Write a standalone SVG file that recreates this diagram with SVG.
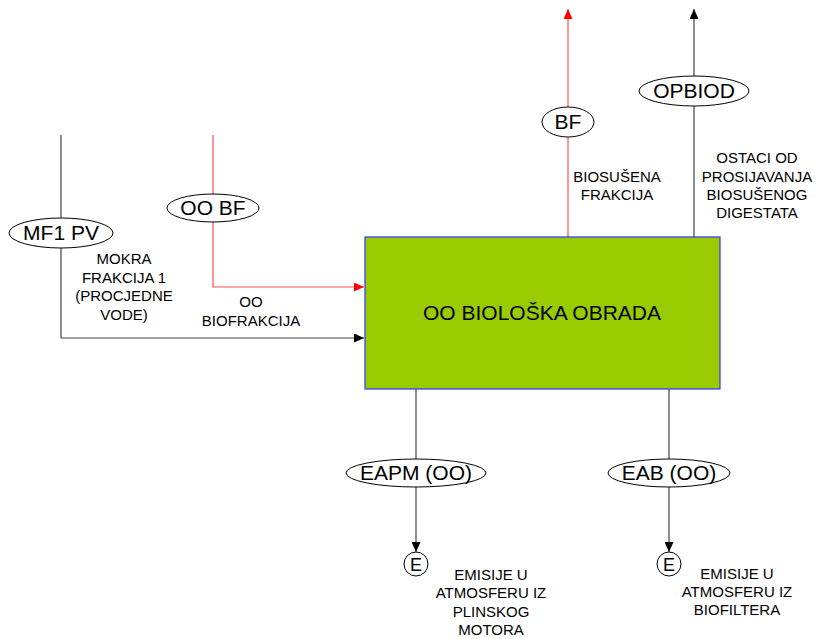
<svg xmlns="http://www.w3.org/2000/svg" width="818" height="639" viewBox="0 0 818 639">
<style>
text{font-family:"Liberation Sans",Arial,sans-serif;fill:#000}
.lbl{font-size:15px;text-anchor:middle}
.el{font-size:21px;text-anchor:middle}
.ell{fill:#fff;stroke:#000;stroke-width:1}
.k{fill:none;stroke:#444;stroke-width:1.2}
.r{fill:none;stroke:#ff5050;stroke-width:1.2}
</style>
<defs>
<marker id="ak" viewBox="0 0 10 10" refX="10" refY="5" markerWidth="10" markerHeight="9" markerUnits="userSpaceOnUse" orient="auto" preserveAspectRatio="none"><path d="M0,0L10,5L0,10z" fill="#000"/></marker>
<marker id="ar" viewBox="0 0 10 10" refX="10" refY="5" markerWidth="10" markerHeight="9" markerUnits="userSpaceOnUse" orient="auto" preserveAspectRatio="none"><path d="M0,0L10,5L0,10z" fill="#ff0000"/></marker>
</defs>
<rect width="818" height="639" fill="#fff"/>
<g id="connectors">
<path class="k" d="M61,135V338H364" marker-end="url(#ak)"/>
<path class="r" d="M213,135V287H364" marker-end="url(#ar)"/>
<path class="r" d="M568,237V9" marker-end="url(#ar)"/>
<path class="k" d="M694,237V9" marker-end="url(#ak)"/>
<path class="k" d="M416,389V552" marker-end="url(#ak)"/>
<path class="k" d="M669,389V552" marker-end="url(#ak)"/>
</g>
<g id="main">
<rect x="365" y="237" width="355" height="152" fill="#99cc00" stroke="#3333ff" stroke-width="1.2"/>
<text x="542" y="320" font-size="21" text-anchor="middle">OO BIOLOŠKA OBRADA</text>
</g>
<g id="mf1pv">
<ellipse class="ell" cx="61" cy="233" rx="52" ry="15"/>
<text class="el" x="61" y="240">MF1 PV</text>
<text class="lbl" x="124" y="264">MOKRA</text>
<text class="lbl" x="124" y="283">FRAKCIJA 1</text>
<text class="lbl" x="124" y="301">(PROCJEDNE</text>
<text class="lbl" x="124" y="320">VODE)</text>
</g>
<g id="oobf">
<ellipse class="ell" cx="213" cy="208" rx="46" ry="14"/>
<text class="el" x="213" y="215">OO BF</text>
<text class="lbl" x="251" y="307">OO</text>
<text class="lbl" x="251" y="326">BIOFRAKCIJA</text>
</g>
<g id="bf">
<ellipse class="ell" cx="568" cy="122" rx="26" ry="15"/>
<text class="el" x="568" y="129">BF</text>
<text class="lbl" x="617" y="182">BIOSUŠENA</text>
<text class="lbl" x="617" y="200">FRAKCIJA</text>
</g>
<g id="opbiod">
<ellipse class="ell" cx="694" cy="91" rx="55" ry="15"/>
<text class="el" x="694" y="98">OPBIOD</text>
<text class="lbl" x="757" y="163">OSTACI OD</text>
<text class="lbl" x="757" y="182">PROSIJAVANJA</text>
<text class="lbl" x="757" y="200">BIOSUŠENOG</text>
<text class="lbl" x="757" y="218">DIGESTATA</text>
</g>
<g id="eapm">
<ellipse class="ell" cx="416" cy="473" rx="70" ry="14"/>
<text class="el" x="416" y="480">EAPM (OO)</text>
</g>
<g id="eab">
<ellipse class="ell" cx="669" cy="473" rx="61" ry="14"/>
<text class="el" x="669" y="480">EAB (OO)</text>
</g>
<g id="e1">
<circle class="ell" cx="416" cy="564" r="12"/>
<text x="416" y="571" font-size="18" text-anchor="middle">E</text>
<text class="lbl" x="491" y="580">EMISIJE U</text>
<text class="lbl" x="491" y="598">ATMOSFERU IZ</text>
<text class="lbl" x="491" y="617">PLINSKOG</text>
<text class="lbl" x="491" y="635">MOTORA</text>
</g>
<g id="e2">
<circle class="ell" cx="669" cy="564" r="12"/>
<text x="669" y="571" font-size="18" text-anchor="middle">E</text>
<text class="lbl" x="737" y="579">EMISIJE U</text>
<text class="lbl" x="737" y="597">ATMOSFERU IZ</text>
<text class="lbl" x="737" y="615">BIOFILTERA</text>
</g>
</svg>
